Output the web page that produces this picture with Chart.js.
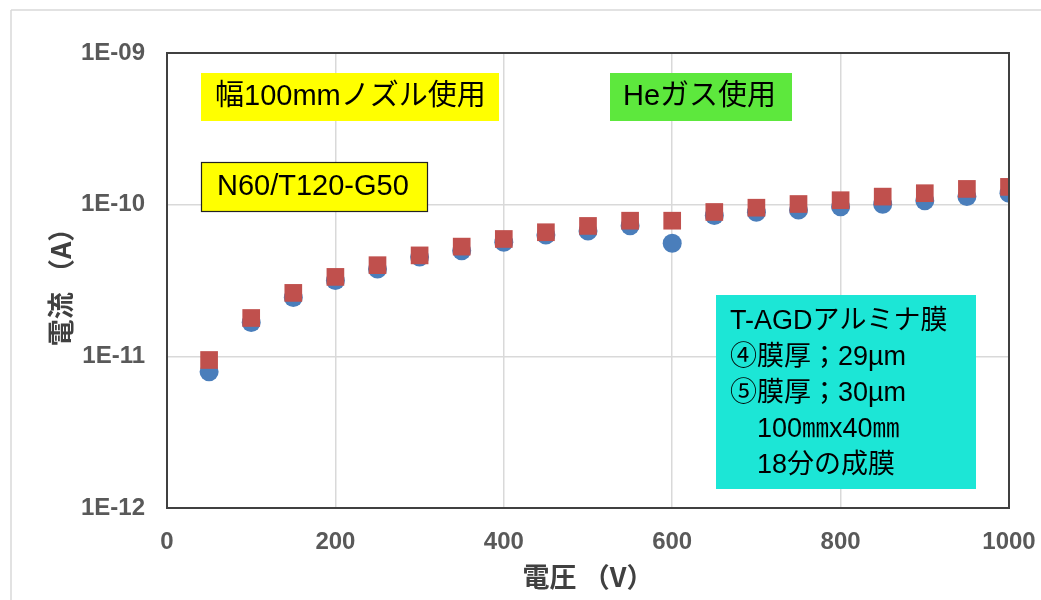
<!DOCTYPE html>
<html><head><meta charset="utf-8">
<script src="https://cdn.jsdelivr.net/npm/chart.js@4"></script>
<style>html,body{margin:0;padding:0;background:#fff}#wrap{width:1041px;height:600px;position:relative}</style>
</head><body><div id="wrap"><canvas id="c" width="1041" height="600"></canvas></div>
<script>
// ---- data ----
const voltages = [50,100,150,200,250,300,350,400,450,500,550,600,650,700,750,800,850,900,950,1000];
const currentCircle = [7.9e-12,1.67e-11,2.44e-11,3.16e-11,3.77e-11,4.52e-11,4.97e-11,5.65e-11,6.31e-11,6.71e-11,7.27e-11,5.57e-11,8.49e-11,8.91e-11,9.23e-11,9.70e-11,1.006e-10,1.06e-10,1.13e-10,1.19e-10];
const currentSquare = [9.46e-12,1.79e-11,2.62e-11,3.34e-11,3.99e-11,4.63e-11,5.29e-11,5.94e-11,6.58e-11,7.24e-11,7.84e-11,7.84e-11,8.95e-11,9.55e-11,1.01e-10,1.07e-10,1.13e-10,1.19e-10,1.27e-10,1.31e-10];
const xTickValues = [0,200,400,600,800,1000];
const xTickLabels = ['0','200','400','600','800','1000'];
const yTickValues = [1e-12,1e-11,1e-10,1e-9];
const yTickLabels = ['1E-12','1E-11','1E-10','1E-09'];
const xTitle = '電圧 （V）';
const yTitle = '電流 （A）';
const noteNozzle = ['幅100mmノズル使用'];
const noteGas = ['Heガス使用'];
const noteCond = ['N60/T120-G50'];
const noteFilm = ['T-AGDアルミナ膜','④膜厚；29µm','⑤膜厚；30µm','　100㎜x40㎜','　18分の成膜'];

const FONT = '"Liberation Sans","Noto Sans CJK JP",sans-serif';
const boxes = [
  {x:201,y:73,w:298,h:48,fill:'#ffff00',border:null,size:29,lines:noteNozzle,tx:14,lh:0},
  {x:610,y:73,w:182,h:48,fill:'#5de83d',border:null,size:29,lines:noteGas,tx:13,lh:0},
  {x:201,y:162,w:227,h:50,fill:'#ffff00',border:'#222',size:29,lines:noteCond,tx:16,lh:0},
  {x:716,y:295,w:260,h:194,fill:'#1ce6d6',border:null,size:27,lines:noteFilm,tx:14,lh:36,ty:27}
];

const deco = {
  id:'deco',
  beforeDraw(chart){
    const c = chart.ctx; c.save();
    c.strokeStyle='#d9d9d9'; c.lineWidth=1.5;
    c.beginPath(); c.moveTo(11,10); c.lineTo(1041,10); c.moveTo(11,10); c.lineTo(11,600); c.stroke();
    c.restore();
  },
  beforeDatasetsDraw(chart){
    const c = chart.ctx; c.save();
    for (const b of boxes){
      c.fillStyle=b.fill; c.fillRect(b.x,b.y,b.w,b.h);
      if (b.border){ c.strokeStyle=b.border; c.lineWidth=1.2; c.strokeRect(b.x+0.5,b.y+0.5,b.w-1,b.h-1); }
      c.fillStyle='#000'; c.font = b.size+'px '+FONT; c.textBaseline='middle'; c.textAlign='left';
      b.lines.forEach((t,i)=>{
        const y = b.lines.length===1 ? b.y+b.h/2 : b.y+b.ty+i*b.lh;
        c.fillText(t,b.x+b.tx,y);
      });
    }
    c.restore();
  },
  afterDatasetsDraw(chart){
    const a = chart.chartArea, c = chart.ctx; c.save();
    c.strokeStyle='#404040'; c.lineWidth=2;
    c.strokeRect(a.left,a.top,a.right-a.left,a.bottom-a.top);
    c.restore();
  }
};

const tickFont = {family:FONT,size:24,weight:'bold'};
const titleFont = {family:'"Noto Sans CJK JP",sans-serif',size:27,weight:'bold'};

new Chart(document.getElementById('c'),{
  type:'scatter',
  data:{datasets:[
    {label:'square',data:voltages.map((v,i)=>({x:v,y:currentSquare[i]})),pointStyle:'rect',pointRadius:12.5,pointHoverRadius:12.5,backgroundColor:'#c0504d',borderColor:'#c0504d',borderWidth:0},
    {label:'circle',data:voltages.map((v,i)=>({x:v,y:currentCircle[i]})),pointStyle:'circle',pointRadius:9.5,pointHoverRadius:9.5,backgroundColor:'#4a7ebb',borderColor:'#4a7ebb',borderWidth:0}
  ]},
  options:{
    responsive:false,animation:false,devicePixelRatio:1,
    layout:{padding:{left:0,top:53,right:32,bottom:0}},
    plugins:{legend:{display:false},tooltip:{enabled:false}},
    scales:{
      x:{type:'linear',min:0,max:1000,
        afterBuildTicks(s){s.ticks=xTickValues.map(v=>({value:v}));},
        afterFit(s){s.height=92;s.paddingLeft=0;s.paddingRight=0;},
        grid:{color:'#d9d9d9',lineWidth:1.5,drawTicks:false},border:{display:false},
        ticks:{font:tickFont,color:'#595959',padding:20,maxRotation:0,autoSkip:false,
          callback(v){const i=xTickValues.indexOf(v);return i>=0?xTickLabels[i]:'';}},
        title:{display:true,text:xTitle,font:titleFont,color:'#404040',padding:{top:0,bottom:7}}},
      y:{type:'logarithmic',min:1e-12,max:1e-9,
        afterBuildTicks(s){s.ticks=yTickValues.map(v=>({value:v}));},
        afterFit(s){s.width=167;s.paddingTop=0;s.paddingBottom=0;},
        grid:{color:'#d9d9d9',lineWidth:1.5,drawTicks:false},border:{display:false},
        ticks:{font:tickFont,color:'#595959',padding:22,autoSkip:false,
          callback(v){const i=yTickValues.findIndex(t=>Math.abs(t-v)/t<1e-6);return i>=0?yTickLabels[i]:'';}},
        title:{display:true,text:yTitle,font:titleFont,color:'#404040',padding:{top:45,bottom:0}}}
    }
  },
  plugins:[deco]
});
</script></body></html>
